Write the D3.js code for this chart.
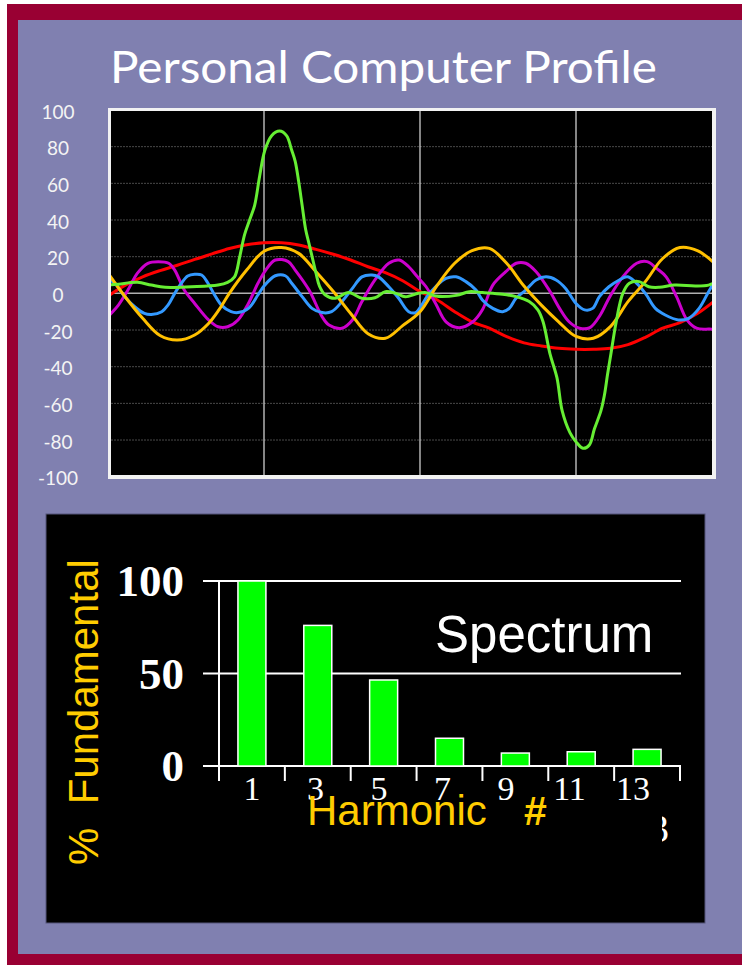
<!DOCTYPE html>
<html><head><meta charset="utf-8">
<script src="https://cdn.jsdelivr.net/npm/d3@7/dist/d3.min.js"></script>
<style>html,body{margin:0;padding:0;background:#fff;} svg{display:block;}</style>
</head><body>
<svg id="c" width="742" height="965"></svg>
<script>
// ---------- data: top chart (phase in degrees, value in %) ----------
const titleText = "Personal Computer Profile";
const yTicks = [100, 80, 60, 40, 20, 0, -20, -40, -60, -80, -100];
const phaseMarks = [90, 180, 270];

const redSeries = [[0,-1.5],[10,4.5],[20,9],[30,12.4],[40,15.3],[50,18.5],[60,21.5],[70,24.5],[80,26.5],[90,27.6],[100,27.6],[110,26.4],[120,24],[130,21.3],[140,18.2],[150,14.5],[160,11.3],[170,6.9],[180,1],[190,-3.6],[200,-10],[210,-15.5],[220,-19],[230,-23.6],[240,-27],[250,-28.7],[260,-30],[270,-30.5],[280,-30.5],[290,-30],[300,-28],[310,-24],[320,-19],[330,-16],[340,-11],[350,-4]];

const yellowSeries = [[0,11],[10,-2],[20,-13.6],[30,-23],[40,-25.5],[50,-22.7],[58,-16.4],[64,-9],[70,0],[80,12.7],[90,23],[100,25],[110,21.8],[120,11.8],[130,1],[140,-11],[150,-22],[160,-24.5],[170,-17.6],[180,-10],[190,4.5],[200,16.4],[210,23.3],[220,24.5],[230,16.4],[240,4],[250,-6.4],[260,-15.5],[270,-23.5],[280,-24.5],[290,-18],[300,-4.5],[310,6.4],[320,19],[330,25],[340,23.3],[350,16.4]];

const magentaSeries = [[0,-12.7],[6,-6.4],[11.5,1.8],[17,11],[23,16.4],[29,17.3],[35,16.4],[38.5,12.7],[44,1.8],[50,-5.5],[58,-14.5],[63.5,-18.2],[69,-18.2],[75,-14.5],[81,-5.5],[86.5,5.5],[91,12.7],[96.5,18.2],[104,17.3],[108,12.7],[116,1.8],[123.5,-12.7],[127.5,-17.3],[135,-19],[141,-14.5],[146.5,-4.5],[154,7.3],[162,16.4],[168,18.2],[173.5,14.5],[178.5,9],[183.5,3.6],[189,-5.5],[195,-15.5],[202.5,-18.7],[210.5,-15.5],[216,-9],[222,4.5],[229.5,11.8],[235.5,16.4],[241,16.4],[247,11.8],[254.5,1.8],[260.5,-8.2],[266,-15.5],[272,-19],[278,-18.7],[284,-11.8],[289.5,-1.8],[297,9],[305,16.4],[311,17.3],[316.5,13.6],[322,9],[328,-1.8],[334,-14.5],[339.5,-19],[347,-19.5],[352,-19.5]];

const blueSeries = [[0,7.6],[4,5.5],[9.6,-1.8],[15.4,-7.3],[21,-10.9],[25,-11.5],[31,-10],[34.6,-6.4],[38.5,0],[42.3,5.5],[46,9.5],[50,10.4],[54,10],[57.7,5.5],[61.5,-0.9],[65.4,-6.4],[71,-10],[75,-10.5],[81,-8.2],[86.5,-0.9],[90,4],[96.5,9.6],[102.3,9.6],[106,5.5],[112,-1.8],[117.7,-8.2],[123.5,-10.5],[129,-10],[135,-4.5],[141,2.7],[146.5,9],[152.3,10],[156,9],[162,3.6],[167.7,-2.7],[173.5,-10],[177.5,-10.5],[181,-6.4],[184,-1.8],[189,3.6],[195,8.2],[200.8,9],[206.5,6.4],[212.3,1.8],[216,-3.6],[222,-8.2],[227.7,-10],[231.5,-8.2],[235.4,-2.7],[241,1.8],[247,7.3],[252.7,9],[258.5,7.3],[264,2.7],[270,-5.5],[275,-9],[279.6,-8.2],[283.5,-1.8],[289,3.6],[295,7.3],[299.6,9],[304,6.4],[310,0],[315.8,-8.2],[321.5,-11.8],[329,-14.5],[335,-13.6],[341,-8.2],[346.5,0.9],[350.5,7.3]];

const greenSeries = [[0,4.5],[6,5],[17,6],[25,4.5],[33,3.3],[48,3.6],[63.5,4.5],[69,6],[73,9],[76,20],[78.8,32],[81.7,40],[84.6,48],[87.5,64],[90.5,78],[94.4,86],[99,88.5],[103,86],[106,78],[108,72],[110,61],[112,48],[114,35],[116,27],[118,19],[120,11],[122,4],[125.4,-0.9],[131,-2.7],[138.8,0.4],[146.5,-2.7],[154,-2.4],[160,0.9],[166,0],[171.5,-1.8],[179,0],[183.5,0.4],[189,-1.5],[201,-1.1],[208.5,0.9],[216,0.4],[227.7,-0.5],[235.4,-1.8],[243,-4.5],[248,-9],[251,-15.5],[255,-33],[259,-46],[262,-64],[266.5,-76],[270,-81],[274,-84.5],[277.7,-82.7],[280.6,-74],[284.4,-64],[286.3,-56],[288.3,-43.6],[290.2,-32.7],[293.1,-16],[297,0],[300.8,5.5],[306.5,6.4],[312,3.6],[318,3.3],[327,4.5],[339,4],[346.5,4.5],[351,6.4]];

const seriesOrder = [
  {name: "fundamental", data: redSeries, color: "#ff0000"},
  {name: "5th", data: magentaSeries, color: "#cc00cc"},
  {name: "7th", data: blueSeries, color: "#3399ff"},
  {name: "3rd", data: yellowSeries, color: "#ffc000"},
  {name: "total", data: greenSeries, color: "#66ee33"}
];

// ---------- data: spectrum ----------
const harmonics = ["1", "3", "5", "7", "9", "11", "13"];
const spectrum = [100, 76, 46.5, 15, 7, 7.7, 9];
const spectrumTicks = [0, 50, 100];

// ---------- drawing ----------
const svg = d3.select("#c");

// frame background
svg.append("rect").attr("x", 7).attr("y", 4).attr("width", 735).attr("height", 961).attr("fill", "#990033");
svg.append("rect").attr("x", 18).attr("y", 20).attr("width", 724).attr("height", 934).attr("fill", "#8080b0");

// title
svg.append("text").attr("x", 110).attr("y", 83)
  .attr("font-family", "Lato, 'Century Gothic', sans-serif").attr("font-size", 44)
  .attr("fill", "#ffffff").attr("textLength", 547).attr("lengthAdjust", "spacingAndGlyphs")
  .text(titleText);

// top plot
const px0 = 111, px1 = 712, py0 = 111, py1 = 475;
const x = d3.scaleLinear().domain([0, 90]).range([108, 264]);
const y = d3.scaleLinear().domain([-100, 100]).range([476.7, 110]);

svg.append("rect").attr("x", 108).attr("y", 108).attr("width", 608).attr("height", 371).attr("fill", "#f2f2f2");
svg.append("rect").attr("x", px0).attr("y", py0).attr("width", px1 - px0).attr("height", py1 - py0).attr("fill", "#000");

svg.append("clipPath").attr("id", "plotclip").append("rect")
  .attr("x", px0).attr("y", py0).attr("width", px1 - px0).attr("height", py1 - py0);

const gp = svg.append("g").attr("clip-path", "url(#plotclip)");

// horizontal grid
gp.selectAll("line.hg").data(yTicks.filter(v => v !== 0 && Math.abs(v) !== 100)).enter().append("line")
  .attr("x1", px0).attr("x2", px1).attr("y1", d => y(d)).attr("y2", d => y(d))
  .attr("stroke", "#4a4a4a").attr("stroke-width", 1).attr("stroke-dasharray", "2,1");
gp.append("line").attr("x1", px0).attr("x2", px1).attr("y1", y(0)).attr("y2", y(0))
  .attr("stroke", "#b0b0b0").attr("stroke-width", 1.5);
// vertical lines
gp.selectAll("line.vg").data(phaseMarks).enter().append("line")
  .attr("x1", d => x(d)).attr("x2", d => x(d)).attr("y1", py0).attr("y2", py1)
  .attr("stroke", "#e0e0e0").attr("stroke-width", 1.2);

const line = d3.line().x(d => x(d[0])).y(d => y(d[1])).curve(d3.curveCatmullRom.alpha(0.5));
gp.selectAll("path.s").data(seriesOrder).enter().append("path")
  .attr("d", d => line(d.data)).attr("fill", "none")
  .attr("stroke", d => d.color).attr("stroke-width", 3)
  .attr("stroke-linejoin", "round").attr("stroke-linecap", "round");

// y labels
svg.selectAll("text.yl").data(yTicks).enter().append("text")
  .attr("x", 58).attr("y", d => y(d) + 2).attr("dy", "0.35em")
  .attr("text-anchor", "middle").attr("font-family", "Lato, 'Century Gothic', sans-serif")
  .attr("font-size", 19).attr("fill", "#f4f4f4").text(d => d);

// ---------- spectrum ----------
svg.append("rect").attr("x", 46).attr("y", 514).attr("width", 659).attr("height", 409)
  .attr("fill", "#000").attr("stroke", "#55557a").attr("stroke-width", 1);

const xb = d3.scaleBand().domain(harmonics).range([219, 680]).paddingInner(0.575).paddingOuter(0.2875);
const xl = d3.scalePoint().domain(harmonics).range([252, 633]);
const yb = d3.scaleLinear().domain([0, 100]).range([766, 581]);

svg.selectAll("line.sg").data(spectrumTicks).enter().append("line")
  .attr("x1", 203).attr("x2", 681).attr("y1", d => yb(d)).attr("y2", d => yb(d))
  .attr("stroke", "#ffffff").attr("stroke-width", 2);
svg.append("line").attr("x1", 219).attr("x2", 219).attr("y1", yb(100)).attr("y2", 781)
  .attr("stroke", "#ffffff").attr("stroke-width", 2);
const tickXs = harmonics.map(h => xb(h) - xb.step() * xb.paddingOuter()).concat([680]);
svg.selectAll("line.tk").data(tickXs).enter().append("line")
  .attr("x1", d => d).attr("x2", d => d).attr("y1", 766).attr("y2", 781)
  .attr("stroke", "#ffffff").attr("stroke-width", 2);

svg.selectAll("rect.bar").data(spectrum).enter().append("rect")
  .attr("x", (d, i) => xb(harmonics[i])).attr("width", xb.bandwidth())
  .attr("y", d => yb(d)).attr("height", d => yb(0) - yb(d))
  .attr("fill", "#00ff00").attr("stroke", "#ffffff").attr("stroke-width", 1.5);

svg.selectAll("text.yb").data(spectrumTicks).enter().append("text")
  .attr("x", 184).attr("y", d => yb(d) + 15).attr("text-anchor", "end")
  .attr("font-family", "'Liberation Serif', 'Times New Roman', serif").attr("font-weight", "bold")
  .attr("font-size", 45).attr("fill", "#ffffff").text(d => d);

svg.selectAll("text.xb").data(harmonics).enter().append("text")
  .attr("x", d => xl(d)).attr("y", 800).attr("text-anchor", "middle")
  .attr("font-family", "'Liberation Serif', 'Times New Roman', serif")
  .attr("font-size", 34).attr("fill", "#ffffff").text(d => d);

svg.append("text").attr("x", 435).attr("y", 652)
  .attr("font-family", "'Liberation Sans', Arial, sans-serif").attr("font-size", 51)
  .attr("fill", "#ffffff").text("Spectrum");

svg.append("text").attr("x", 307).attr("y", 825)
  .attr("font-family", "'Liberation Sans', Arial, sans-serif").attr("font-size", 42)
  .attr("fill", "#ffcc00").text("Harmonic");
svg.append("text").attr("x", 524).attr("y", 825)
  .attr("font-family", "'Liberation Sans', Arial, sans-serif").attr("font-size", 41).attr("font-weight", "bold")
  .attr("fill", "#ffcc00").text("#");

svg.append("text").attr("transform", "translate(98,865) rotate(-90)")
  .attr("font-family", "'Liberation Sans', Arial, sans-serif").attr("font-size", 42)
  .attr("fill", "#ffcc00").attr("xml:space", "preserve").style("white-space", "pre")
  .text("%  Fundamental");

// partially hidden "3"
svg.append("clipPath").attr("id", "c3").append("rect").attr("x", 662).attr("y", 800).attr("width", 40).attr("height", 60);
svg.append("text").attr("x", 649).attr("y", 842).attr("clip-path", "url(#c3)")
  .attr("font-family", "'Liberation Serif', 'Times New Roman', serif").attr("font-size", 40)
  .attr("fill", "#ffffff").text("3");
</script>
</body></html>
